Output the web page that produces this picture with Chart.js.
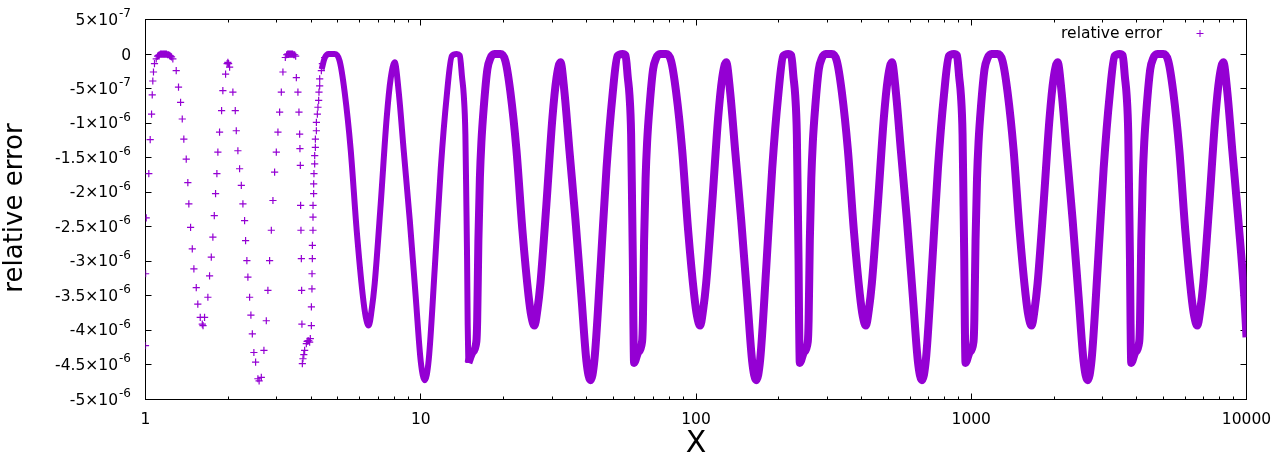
<!DOCTYPE html>
<html>
<head>
<meta charset="utf-8">
<title>relative error</title>
<script src="https://cdn.jsdelivr.net/npm/chart.js@4.4.1/dist/chart.umd.min.js"></script>
<style>
  html, body { margin: 0; padding: 0; background: #fff; }
  #wrap { width: 1280px; height: 460px; }
</style>
</head>
<body>
<div id="wrap"><canvas id="errChart" width="1280" height="460"></canvas></div>
<script>
// values in units of 1e-6 (the y axis is labelled in the same units)

// x < 4.5 : individual crosses
const sparseX = [
  1.000, 1.001, 1.006, 1.028, 1.040, 1.052, 1.058, 1.063, 1.069, 1.078, 1.094,
  1.106, 1.115, 1.124, 1.134, 1.143, 1.153, 1.163, 1.172, 1.182, 1.192, 1.202, 1.212, 1.223, 1.233, 1.243,
  1.257, 1.293, 1.318, 1.341, 1.360, 1.378, 1.406, 1.425, 1.437, 1.458, 1.479, 1.499, 1.529, 1.549, 1.581, 1.608, 1.618,
  1.639, 1.685, 1.709, 1.734, 1.757, 1.778, 1.797, 1.817, 1.832, 1.858, 1.890, 1.910, 1.954, 1.980, 1.992, 2.004,
  2.021, 2.077, 2.119, 2.137, 2.166, 2.197, 2.229, 2.259, 2.291, 2.310, 2.335, 2.355, 2.389, 2.415, 2.444, 2.476, 2.512, 2.561, 2.587,
  2.635, 2.693, 2.747, 2.784, 2.824, 2.865, 2.904, 2.945, 2.987, 3.028, 3.071, 3.115, 3.157, 3.221,
  3.256, 3.284, 3.311, 3.339, 3.367, 3.395, 3.424, 3.453, 3.482, 3.512,
  3.532, 3.579, 3.610, 3.631, 3.640, 3.652, 3.661, 3.671, 3.683, 3.692, 3.701,
  3.714, 3.733, 3.760, 3.786, 3.840, 3.865, 3.892, 3.920, 3.948, 3.970,
  4.005, 4.006, 4.025, 4.027, 4.038, 4.039, 4.059, 4.060, 4.061, 4.082, 4.083, 4.093, 4.117, 4.118,
  4.141, 4.142, 4.176, 4.177, 4.211, 4.232, 4.257, 4.268, 4.293, 4.294, 4.354, 4.391, 4.476
];
const sparseY = [
  -4.22, -3.18, -2.37, -1.73, -1.24, -0.87, -0.59, -0.39, -0.26, -0.14, -0.07,
  -0.03, -0.02, -0.01, 0, 0, 0, 0, 0, 0, 0, -0.01, -0.01, -0.02, -0.03, -0.04,
  -0.07, -0.24, -0.48, -0.70, -0.94, -1.23, -1.52, -1.86, -2.17, -2.51, -2.82, -3.11, -3.38, -3.62, -3.81, -3.91, -3.93,
  -3.81, -3.52, -3.21, -2.94, -2.65, -2.34, -2.02, -1.73, -1.42, -1.13, -0.82, -0.53, -0.29, -0.14, -0.12, -0.14,
  -0.19, -0.55, -0.82, -1.11, -1.40, -1.66, -1.90, -2.17, -2.41, -2.70, -2.99, -3.23, -3.52, -3.78, -4.05, -4.32, -4.46, -4.70, -4.73,
  -4.68, -4.29, -3.86, -3.42, -2.99, -2.55, -2.12, -1.71, -1.42, -1.13, -0.84, -0.55, -0.26, -0.05,
  -0.01, 0, 0, 0, 0, 0, 0, -0.01, -0.01, -0.03,
  -0.34, -0.55, -0.84, -1.16, -1.37, -1.61, -2.19, -2.55, -2.96, -3.42, -3.91,
  -4.48, -4.41, -4.35, -4.29, -4.19, -4.16, -4.15, -4.15, -4.17, -4.12,
  -3.93, -3.66, -3.40, -3.18, -2.96, -2.77, -2.55, -2.36, -2.19, -2.02, -1.88, -1.73, -1.59, -1.47,
  -1.35, -1.23, -1.11, -0.99, -0.87, -0.77, -0.67, -0.55, -0.46, -0.36, -0.24, -0.14, -0.05
];

// 4.4 .. 14.9 : close crosses
const midX = [4.365, 4.476, 4.629, 4.866, 5.074, 5.291, 5.564, 5.851, 6.152, 6.309, 6.470, 6.634,
  6.803, 7.153, 7.522, 7.778, 8.043, 8.317, 8.673, 9.120, 9.590, 10.000, 10.340, 10.692,
  11.243, 11.822, 12.432, 12.964, 13.517, 13.861, 14.131, 14.333, 14.526, 14.649, 14.734, 14.809, 14.893];
const midY = [-0.22, -0.06, 0, 0, -0.10, -0.55, -1.38, -2.55, -3.48, -3.80, -3.93, -3.70,
  -3.32, -2.17, -0.92, -0.35, -0.12, -0.55, -1.40, -2.40, -3.52, -4.45, -4.72, -4.42,
  -3.10, -1.66, -0.60, -0.03, 0, -0.02, -0.34, -0.60, -1.16, -2.19, -2.96, -3.91, -4.47];

// from 14.9 on the points merge into a solid band
const p3X = [14.893, 15.401, 15.925, 16.032, 16.195, 16.399, 16.606, 16.957, 17.461, 17.906, 18.517,
  19.467, 20.299, 21.168, 22.258, 23.406, 24.611, 25.236, 25.881, 26.539, 27.214, 28.615, 30.090,
  31.116, 32.175, 33.271, 34.693, 36.482, 38.362, 40.001, 41.364, 42.773, 44.977, 47.293, 49.729,
  51.860, 54.074, 55.447, 56.527, 57.335, 58.110, 58.598, 58.942, 59.241];
const p3Y = [-4.47, -4.32, -4.16, -3.86, -2.70, -1.80, -1.28, -0.75, -0.22, -0.06, 0,
  0, -0.10, -0.55, -1.38, -2.55, -3.48, -3.80, -3.93, -3.70, -3.32, -2.17, -0.92,
  -0.35, -0.12, -0.55, -1.40, -2.40, -3.52, -4.45, -4.72, -4.42, -3.10, -1.66, -0.60,
  -0.03, 0, -0.02, -0.34, -0.60, -1.16, -2.19, -2.96, -3.91];

const p4X = [59.572, 61.604, 63.700, 64.128, 64.780, 65.596, 66.424, 67.828, 69.844, 71.624, 74.068,
  77.868, 81.196, 84.672, 89.032, 93.624, 98.444, 100.944, 103.524, 106.156, 108.856, 114.46, 120.36,
  124.464, 128.70, 133.084, 138.772, 145.928, 153.448, 160.004, 165.456, 171.092, 179.908, 189.172, 198.916,
  207.44, 216.296, 221.788, 226.108, 229.34, 232.44, 234.392, 235.768, 236.964];
const p4Y = [-4.47, -4.32, -4.16, -3.86, -2.70, -1.80, -1.28, -0.75, -0.22, -0.06, 0,
  0, -0.10, -0.55, -1.38, -2.55, -3.48, -3.80, -3.93, -3.70, -3.32, -2.17, -0.92,
  -0.35, -0.12, -0.55, -1.40, -2.40, -3.52, -4.45, -4.72, -4.42, -3.10, -1.66, -0.60,
  -0.03, 0, -0.02, -0.34, -0.60, -1.16, -2.19, -2.96, -3.91];

const p5X = [238.29, 246.42, 254.80, 256.51, 259.12, 262.38, 265.70, 271.31, 279.38, 286.50, 296.27,
  311.47, 324.78, 338.69, 356.13, 374.50, 393.78, 403.78, 414.10, 424.62, 435.42, 457.84, 481.44,
  497.86, 514.80, 532.34, 555.09, 583.71, 613.79, 640.02, 661.82, 684.37, 719.63, 756.69, 795.66,
  829.76, 865.18, 887.15, 904.43, 917.36, 929.76, 937.57, 943.07, 947.86];
const p5Y = [-4.47, -4.32, -4.16, -3.86, -2.70, -1.80, -1.28, -0.75, -0.22, -0.06, 0,
  0, -0.10, -0.55, -1.38, -2.55, -3.48, -3.80, -3.93, -3.70, -3.32, -2.17, -0.92,
  -0.35, -0.12, -0.55, -1.40, -2.40, -3.52, -4.45, -4.72, -4.42, -3.10, -1.66, -0.60,
  -0.03, 0, -0.02, -0.34, -0.60, -1.16, -2.19, -2.96, -3.91];

const p6X = [953.2, 985.7, 1019.2, 1026.0, 1036.5, 1049.5, 1062.8, 1085.2, 1117.5, 1146.0, 1185.1,
  1245.9, 1299.1, 1354.8, 1424.5, 1498.0, 1575.1, 1615.1, 1656.4, 1698.5, 1741.7, 1831.4, 1925.8,
  1991.4, 2059.2, 2129.3, 2220.4, 2334.8, 2455.2, 2560.1, 2647.3, 2737.5, 2878.5, 3026.8, 3182.7,
  3319.0, 3460.7, 3548.6, 3617.7, 3669.4, 3719.0, 3750.3, 3772.3, 3791.4];
const p6Y = [-4.47, -4.32, -4.16, -3.86, -2.70, -1.80, -1.28, -0.75, -0.22, -0.06, 0,
  0, -0.10, -0.55, -1.38, -2.55, -3.48, -3.80, -3.93, -3.70, -3.32, -2.17, -0.92,
  -0.35, -0.12, -0.55, -1.40, -2.40, -3.52, -4.45, -4.72, -4.42, -3.10, -1.66, -0.60,
  -0.03, 0, -0.02, -0.34, -0.60, -1.16, -2.19, -2.96, -3.91];

const p7X = [3812.6, 3942.6, 4076.8, 4104.2, 4145.9, 4198.2, 4251.1, 4341.0, 4470.0, 4583.9, 4740.4,
  4983.6, 5196.6, 5419.0, 5698.0, 5991.9, 6300.4, 6460.4, 6625.5, 6794.0, 6966.8, 7325.4, 7703.0,
  7965.7, 8236.8, 8517.4, 8881.4, 9339.4, 9820.7, 10000];
const p7Y = [-4.47, -4.32, -4.16, -3.86, -2.70, -1.80, -1.28, -0.75, -0.22, -0.06, 0,
  0, -0.10, -0.55, -1.38, -2.55, -3.48, -3.80, -3.93, -3.70, -3.32, -2.17, -0.92,
  -0.35, -0.12, -0.55, -1.40, -2.40, -3.52, -4.10];

// axis ticks
const xTickValues = [1, 10, 100, 1000, 10000];
const xTickLabels = ['1', '10', '100', '1000', '10000'];
const yTickValues = [0.5, 0, -0.5, -1, -1.5, -2, -2.5, -3, -3.5, -4, -4.5, -5];
const yTickMant = ['5\u00d710', '0', '-5\u00d710', '-1\u00d710', '-1.5\u00d710', '-2\u00d710', '-2.5\u00d710',
  '-3\u00d710', '-3.5\u00d710', '-4\u00d710', '-4.5\u00d710', '-5\u00d710'];
const yTickExp = ['-7', '', '-7', '-6', '-6', '-6', '-6', '-6', '-6', '-6', '-6', '-6'];

const PURPLE = '#9400d3';
const FONT = '"DejaVu Sans", sans-serif';

function pts(xs, ys) {
  return xs.map((x, i) => ({ x: x, y: ys[i] }));
}

// Frame, ticks and labels drawn the gnuplot way
const gnuplotFrame = {
  id: 'gnuplotFrame',
  beforeDatasetsDraw(chart) {
    const c = chart.ctx, a = chart.chartArea;
    const sx = chart.scales.x, sy = chart.scales.y;
    c.save();
    c.strokeStyle = '#000';
    c.lineWidth = 1;
    c.strokeRect(a.left, a.top, a.right - a.left, a.bottom - a.top);

    c.beginPath();
    // y ticks, both sides
    yTickValues.forEach(v => {
      const p = Math.floor(sy.getPixelForValue(v)) + 0.5;
      c.moveTo(a.left, p); c.lineTo(a.left + 6, p);
      c.moveTo(a.right, p); c.lineTo(a.right - 6, p);
    });
    // x ticks, bottom and top (log: decades long, 2..9 short)
    for (let d = 1; d <= 10000; d *= 10) {
      for (let k = 1; k <= 9; k++) {
        const v = d * k;
        if (v > 10000) break;
        const len = k === 1 ? 6 : 3;
        const p = Math.floor(sx.getPixelForValue(v)) + 0.5;
        c.moveTo(p, a.bottom); c.lineTo(p, a.bottom - len);
        c.moveTo(p, a.top); c.lineTo(p, a.top + len);
      }
    }
    c.stroke();

    c.fillStyle = '#000';
    // x tick labels
    c.font = '15.5px ' + FONT;
    c.textAlign = 'center';
    c.textBaseline = 'alphabetic';
    xTickValues.forEach((v, i) => {
      c.fillText(xTickLabels[i], sx.getPixelForValue(v), 423.5);
    });

    // y tick labels with raised exponent
    const right = 131;
    yTickValues.forEach((v, i) => {
      const p = sy.getPixelForValue(v);
      const e = yTickExp[i];
      c.textAlign = 'right';
      if (e) {
        c.font = '12px ' + FONT;
        const w = c.measureText(e).width;
        c.fillText(e, right, p - 2.5);
        c.font = '15.5px ' + FONT;
        c.fillText(yTickMant[i], right - w - 1, p + 5);
      } else {
        c.font = '15.5px ' + FONT;
        c.fillText(yTickMant[i], right, p + 5.5);
      }
    });

    // axis titles
    c.textAlign = 'center';
    c.font = '30px ' + FONT;
    c.fillText('X', sx.getPixelForValue(100), 452);
    c.save();
    c.translate(22, 208);
    c.rotate(-Math.PI / 2);
    c.font = '26px ' + FONT;
    c.fillText('relative error', 0, 0);
    c.restore();
    c.restore();
  },
  afterDraw(chart) {
    const c = chart.ctx;
    c.save();
    c.fillStyle = '#000';
    c.font = '15.5px ' + FONT;
    c.textAlign = 'right';
    c.textBaseline = 'alphabetic';
    c.fillText('relative error', 1162, 37.5);
    c.strokeStyle = PURPLE;
    c.lineWidth = 1;
    c.beginPath();
    c.moveTo(1196.5, 33.5); c.lineTo(1203.5, 33.5);
    c.moveTo(1200, 30); c.lineTo(1200, 37);
    c.stroke();
    c.restore();
  }
};

const chart = new Chart(document.getElementById('errChart'), {
  type: 'scatter',
  data: {
    datasets: [
      {
        label: 'relative error',
        data: pts(sparseX, sparseY),
        showLine: false,
        pointStyle: 'cross',
        pointRadius: 3.6,
        pointBorderWidth: 1.2,
        borderColor: PURPLE,
        backgroundColor: PURPLE
      },
      {
        label: 'mid',
        data: pts(midX, midY),
        showLine: true,
        pointRadius: 0,
        borderWidth: 6,
        borderColor: PURPLE,
        cubicInterpolationMode: 'monotone',
        borderJoinStyle: 'round'
      },
      {
        label: 'dense',
        data: [].concat(pts(p3X, p3Y), pts(p4X, p4Y), pts(p5X, p5Y), pts(p6X, p6Y), pts(p7X, p7Y)),
        showLine: true,
        pointRadius: 0,
        borderWidth: 8,
        borderColor: PURPLE,
        cubicInterpolationMode: 'monotone',
        borderJoinStyle: 'round'
      }
    ]
  },
  options: {
    responsive: false,
    devicePixelRatio: 1,
    animation: false,
    layout: { padding: { left: 145.5, right: 33.5, top: 19.5, bottom: 60.5 } },
    plugins: {
      legend: { display: false },
      tooltip: { enabled: false }
    },
    scales: {
      x: { type: 'logarithmic', min: 1, max: 10000, display: false },
      y: { type: 'linear', min: -5, max: 0.5, display: false }
    }
  },
  plugins: [gnuplotFrame]
});
</script>
</body>
</html>
